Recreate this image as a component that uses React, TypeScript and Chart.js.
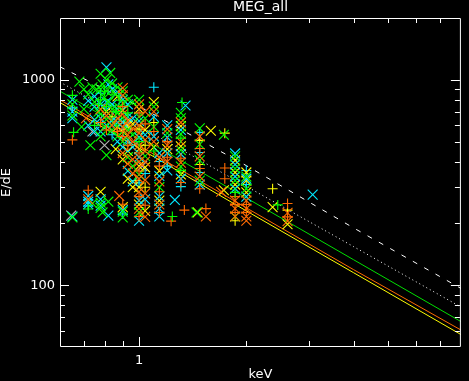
import React, { useEffect, useRef } from "react";
import { Chart, registerables } from "chart.js";

Chart.register(...registerables);

// ---- axis ticks ----
const xTickValues = [0.7, 0.8, 0.9, 1, 2, 3, 4, 5, 6, 7];
const xLabeled = [1];
const yTickValues = [60, 70, 80, 90, 100, 200, 300, 400, 500, 600, 700, 800, 900, 1000];
const yLabeled = [100, 1000];

// ---- model curves [keV, E/dE] ----
const dashedCurve: [number, number][] = [[0.6, 1157], [1, 743], [2, 382], [4, 190], [8, 96.5]];
const dottedCurve: [number, number][] = [[0.6, 975], [1, 597], [2, 303], [4, 154], [8, 78.3]];
const greenCurve: [number, number][] = [[0.6, 880], [1, 530], [2, 266], [4, 133], [8, 66.5]];
const orangeCurve: [number, number][] = [[0.6, 799], [1, 478], [2, 238], [4, 119], [8, 60.5]];
const yellowCurve: [number, number][] = [[0.6, 775], [1, 465], [2, 230], [4, 115], [8, 57.5]];

// ---- measured points [keV, E/dE] ----
const greenCross: [number, number][] = [
  [0.65, 760], [0.65, 670], [0.68, 980], [0.7, 900], [0.7, 720], [0.69, 590],
  [0.75, 780], [0.73, 480], [0.78, 1070], [0.78, 900], [0.78, 680], [0.78, 530],
  [0.81, 1000], [0.81, 880], [0.81, 640], [0.81, 430], [0.84, 960], [0.84, 720], [0.84, 570],
  [0.87, 920], [0.87, 690], [0.87, 530], [0.9, 880], [0.9, 770], [0.9, 650], [0.9, 500],
  [0.93, 800], [0.93, 570], [0.93, 420], [0.96, 780], [0.96, 540], [0.96, 380],
  [1.0, 800], [1.0, 660], [1.0, 345], [1.0, 226], [1.04, 650], [1.04, 425],
  [1.1, 740], [1.1, 590], [1.14, 300], [1.2, 550],
  [1.31, 690], [1.31, 650], [1.31, 545], [1.31, 455], [1.31, 378],
  [1.48, 580], [1.48, 485], [1.48, 405], [1.48, 323], [1.73, 540],
  [1.86, 424], [1.86, 370], [1.86, 323], [1.86, 216], [2.0, 338], [2.0, 295],
  [0.65, 214], [0.78, 252], [0.78, 238], [0.79, 226], [0.82, 255], [0.9, 228], [0.9, 214],
  [1.45, 226], [0.74, 250],
  [0.76, 900], [0.8, 820], [0.83, 1080], [0.86, 850], [0.79, 950], [0.82, 780],
  [0.88, 730], [0.77, 700], [0.72, 850], [0.74, 920], [0.85, 620], [0.8, 590],
];
const greenPlus: [number, number][] = [
  [0.65, 840], [0.655, 555], [0.72, 235], [0.75, 600], [0.78, 800], [0.81, 740], [0.84, 850],
  [0.88, 795], [0.93, 690], [1.0, 500], [1.1, 450], [1.31, 520], [1.31, 362], [1.32, 775],
  [1.86, 283], [1.24, 216], [2.45, 246], [0.8, 880], [0.77, 760], [0.86, 700],
];
const cyanCross: [number, number][] = [
  [0.65, 800], [0.65, 700], [0.65, 650], [0.65, 216], [0.72, 790], [0.72, 600],
  [0.75, 830], [0.75, 740], [0.75, 640], [0.75, 560], [0.78, 760], [0.78, 650], [0.78, 560],
  [0.81, 1150], [0.82, 950], [0.81, 780], [0.81, 600], [0.84, 900], [0.84, 760], [0.84, 630],
  [0.87, 870], [0.87, 720], [0.87, 620], [0.87, 500], [0.9, 800], [0.9, 620], [0.9, 470],
  [0.93, 760], [0.93, 660], [0.93, 510], [0.93, 360], [0.96, 650], [0.96, 470], [0.96, 320],
  [1.0, 630], [1.0, 525], [1.0, 420], [1.0, 258], [1.0, 206], [1.04, 540], [1.04, 262],
  [1.1, 660], [1.1, 530], [1.14, 440], [1.14, 340], [1.14, 270], [1.14, 236], [1.14, 216],
  [1.2, 600], [1.2, 525], [1.2, 440], [1.2, 362], [1.31, 570], [1.31, 435], [1.31, 330],
  [1.35, 750], [1.48, 309], [1.86, 438], [1.86, 387], [1.86, 338], [1.86, 295],
  [2.0, 330], [2.0, 270], [0.72, 272], [0.72, 255], [0.72, 248], [0.78, 262], [0.78, 244],
  [0.82, 218], [0.9, 232], [1.26, 260], [3.07, 276],
];
const cyanPlus: [number, number][] = [
  [0.65, 730], [0.72, 243], [0.78, 860], [0.84, 540], [0.9, 222], [1.0, 315], [1.04, 350],
  [1.1, 920], [1.14, 400], [1.2, 380], [1.31, 302], [1.48, 555], [1.48, 443], [1.48, 354],
  [2.0, 362], [2.0, 309],
];
const yellowCross: [number, number][] = [
  [0.78, 285], [0.81, 700], [0.86, 460], [0.87, 830], [0.87, 590], [0.9, 710], [0.9, 560],
  [0.9, 410], [0.93, 600], [0.93, 450], [0.93, 330], [0.96, 610], [0.96, 300], [1.0, 720],
  [1.0, 460], [1.0, 380], [1.0, 300], [1.0, 247], [1.04, 570], [1.04, 375], [1.04, 230],
  [1.1, 780], [1.1, 470], [1.14, 360], [1.14, 258], [1.2, 460], [1.31, 595], [1.31, 475],
  [1.31, 346], [1.59, 565], [1.86, 405], [1.86, 354], [1.86, 309], [2.0, 354], [2.0, 323],
  [2.0, 283], [0.9, 240], [1.46, 226], [1.73, 290], [2.37, 240], [2.61, 198],
];
const yellowPlus: [number, number][] = [
  [0.84, 660], [0.98, 323], [1.0, 575], [1.04, 480], [1.04, 300], [1.1, 620], [1.48, 507],
  [1.48, 387], [1.74, 550], [1.86, 206], [2.37, 295], [2.61, 232],
];
const orangeCross: [number, number][] = [
  [0.71, 650], [0.72, 262], [0.78, 720], [0.81, 670], [0.84, 600],
  [0.87, 650], [0.88, 272], [0.9, 912], [0.9, 840],
  [0.9, 680], [0.9, 590], [0.9, 440], [0.93, 630], [0.93, 540], [0.93, 390],
  [0.96, 580], [0.96, 500], [0.96, 410], [0.96, 350], [1.0, 760], [1.0, 600],
  [1.0, 550], [1.0, 480], [1.0, 400], [1.0, 330], [1.0, 285], [1.0, 236], [1.04, 700],
  [1.04, 510], [1.04, 450], [1.04, 400], [1.04, 325], [1.04, 280], [1.04, 215], [1.1, 700],
  [1.1, 500], [1.14, 420], [1.14, 320], [1.14, 247], [1.2, 575], [1.2, 480], [1.2, 400],
  [1.31, 620], [1.31, 500], [1.31, 395], [1.48, 530], [1.48, 424], [1.48, 338], [1.54, 216],
  [1.86, 258], [1.86, 236], [1.86, 216], [2.0, 258], [2.0, 236], [2.0, 216], [2.0, 206],
  [2.61, 225], [2.61, 205], [1.7, 285],
];
const orangePlus: [number, number][] = [
  [0.65, 510], [0.72, 290], [0.78, 620], [0.81, 570], [0.87, 560], [0.9, 740], [0.9, 530],
  [0.9, 248], [0.93, 480], [1.0, 690], [1.0, 440], [1.0, 360], [1.0, 270], [1.0, 216],
  [1.04, 610], [1.04, 245], [1.1, 560], [1.14, 380], [1.14, 285], [1.14, 226], [1.2, 500],
  [1.2, 420], [1.31, 415], [1.31, 316], [1.34, 232], [1.23, 205], [1.48, 463], [1.48, 370],
  [1.48, 295], [1.54, 236], [1.74, 372], [1.74, 330], [1.86, 270], [1.86, 247], [1.86, 226],
  [2.0, 247], [2.0, 226], [2.61, 250], [2.61, 215],
];
const grayCross: [number, number][] = [
  [0.645, 218], [0.74, 560], [0.92, 600], [1.02, 380], [0.8, 480],
];

const GREEN = "#00ff00";
const CYAN = "#00e8ff";
const YELLOW = "#ffff00";
const ORANGE = "#ff6a00";
const GRAY = "#b4b4b4";
const FONT = "'DejaVu Sans', sans-serif";

const toXY = (arr: [number, number][]) => arr.map(([x, y]) => ({ x, y }));

const idlFrame = {
  id: "idlFrame",
  afterDatasetsDraw(chart: any) {
    const { ctx, chartArea, scales } = chart;
    const { left, right, top, bottom } = chartArea;
    const xs = scales.x;
    const ys = scales.y;
    ctx.save();
    ctx.strokeStyle = "#ffffff";
    ctx.lineWidth = 1;
    ctx.beginPath();
    ctx.rect(left + 0.5, top + 0.5, right - left - 1, bottom - top - 1);
    for (const v of xTickValues) {
      const px = Math.round(xs.getPixelForValue(v)) + 0.5;
      const len = xLabeled.includes(v) ? 9 : 5;
      ctx.moveTo(px, bottom - 1);
      ctx.lineTo(px, bottom - 1 - len);
      ctx.moveTo(px, top);
      ctx.lineTo(px, top + len);
    }
    for (const v of yTickValues) {
      const py = Math.round(ys.getPixelForValue(v)) + 0.5;
      const len = yLabeled.includes(v) ? 9 : 5;
      ctx.moveTo(left, py);
      ctx.lineTo(left + len, py);
      ctx.moveTo(right - 1, py);
      ctx.lineTo(right - 1 - len, py);
    }
    ctx.stroke();
    ctx.restore();
  },
};

function pointSet(data: [number, number][], color: string, style: string, order: number) {
  return {
    data: toXY(data),
    showLine: false,
    pointStyle: style,
    pointRadius: style === "cross" ? 5 : 7,
    pointBorderColor: color,
    pointBackgroundColor: color,
    pointBorderWidth: 1.1,
    borderColor: color,
    order,
  };
}

function curveSet(data: [number, number][], color: string, dash: number[]) {
  return {
    data: toXY(data),
    showLine: true,
    borderColor: color,
    borderWidth: 1,
    borderDash: dash,
    pointRadius: 0,
    fill: false,
    order: 20,
  };
}

export default function App() {
  const ref = useRef<HTMLCanvasElement | null>(null);
  useEffect(() => {
    document.body.style.margin = "0";
    document.body.style.background = "#000";
    const canvas = ref.current!;
    const chart = new Chart(canvas, {
      type: "scatter",
      data: {
        datasets: [
          curveSet(dashedCurve, "#ffffff", [5, 8]),
          curveSet(dottedCurve, "#ffffff", [1, 3]),
          curveSet(greenCurve, "#00e000", []),
          curveSet(orangeCurve, ORANGE, []),
          curveSet(yellowCurve, YELLOW, []),
          pointSet(grayCross, GRAY, "crossRot", 9),
          pointSet(yellowPlus, YELLOW, "cross", 8),
          pointSet(cyanPlus, CYAN, "cross", 7),
          pointSet(yellowCross, YELLOW, "crossRot", 6),
          pointSet(cyanCross, CYAN, "crossRot", 5),
          pointSet(greenCross, GREEN, "crossRot", 4),
          pointSet(orangeCross, ORANGE, "crossRot", 3),
          pointSet(orangePlus, ORANGE, "cross", 2),
          pointSet(greenPlus, GREEN, "cross", 1),
        ] as any,
      },
      options: {
        animation: false,
        responsive: false,
        maintainAspectRatio: false,
        events: [],
        layout: { padding: 0 },
        plugins: {
          legend: { display: false },
          tooltip: { enabled: false },
          title: {
            display: true,
            text: "MEG_all",
            color: "#ffffff",
            fullSize: false,
            font: { family: FONT, size: 14, weight: "normal", lineHeight: 1.0 },
            padding: { top: 0, bottom: 4 },
          },
        },
        scales: {
          x: {
            type: "logarithmic",
            position: "bottom",
            min: 0.6,
            max: 8,
            grid: { display: false, drawTicks: false },
            border: { display: false },
            afterBuildTicks: (axis: any) => {
              axis.ticks = xTickValues.map((v) => ({ value: v }));
            },
            afterFit: (axis: any) => {
              axis.height = 34;
            },
            ticks: {
              autoSkip: false,
              maxRotation: 0,
              padding: 6,
              color: "#ffffff",
              font: { family: FONT, size: 13 },
              callback: (v: any) => (xLabeled.includes(Number(v)) ? String(v) : ""),
            },
            title: {
              display: true,
              text: "keV",
              color: "#ffffff",
              font: { family: FONT, size: 13, lineHeight: 1.0 },
              padding: 0,
            },
          },
          y: {
            type: "logarithmic",
            position: "left",
            min: 50,
            max: 2000,
            grid: { display: false, drawTicks: false },
            border: { display: false },
            afterBuildTicks: (axis: any) => {
              axis.ticks = yTickValues.map((v) => ({ value: v }));
            },
            afterFit: (axis: any) => {
              axis.width = 60;
            },
            ticks: {
              autoSkip: false,
              padding: 5,
              color: "#ffffff",
              font: { family: FONT, size: 13 },
              callback: (v: any) => (yLabeled.includes(Number(v)) ? String(v) : ""),
            },
            title: {
              display: true,
              text: "E/dE",
              color: "#ffffff",
              font: { family: FONT, size: 13, lineHeight: 1.0 },
              padding: 0,
            },
          },
        },
      },
      plugins: [idlFrame],
    } as any);
    return () => chart.destroy();
  }, []);
  return (
    <div style={{ position: "fixed", left: 0, top: 0, width: 469, height: 381, background: "#000" }}>
      <canvas ref={ref} width={469} height={381} style={{ display: "block" }} />
    </div>
  );
}
